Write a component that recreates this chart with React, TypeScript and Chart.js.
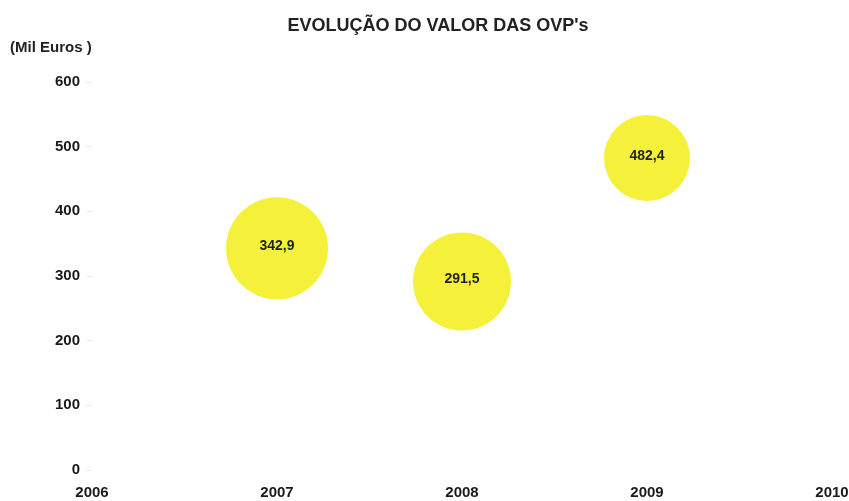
import React, { useEffect, useRef } from "react";
import { Chart, registerables } from "chart.js";

Chart.register(...registerables);

const titleText = "EVOLUÇÃO DO VALOR DAS OVP's";
const unitText = "(Mil Euros )";
const years = [2007, 2008, 2009];
const values = [342.9, 291.5, 482.4];
const bubbleRadii = [51, 49, 43];
const valueLabels = ["342,9", "291,5", "482,4"];
const xMin = 2006;
const xMax = 2010;
const yMin = 0;
const yMax = 600;
const yStep = 100;

const FONT = "'Liberation Sans', Arial, sans-serif";

const textPlugin = {
  id: "texts",
  afterDatasetsDraw(chart: any) {
    const ctx = chart.ctx;
    const meta = chart.getDatasetMeta(0);
    ctx.save();
    ctx.fillStyle = "#1e2424";
    ctx.font = `bold 14px ${FONT}`;
    ctx.textAlign = "center";
    ctx.textBaseline = "middle";
    meta.data.forEach((el: any, i: number) => {
      ctx.fillText(valueLabels[i], el.x, el.y - 2);
    });
    ctx.restore();
  },
  afterDraw(chart: any) {
    const ctx = chart.ctx;
    ctx.save();
    ctx.fillStyle = "#222";
    ctx.textBaseline = "middle";
    ctx.font = `bold 18px ${FONT}`;
    ctx.textAlign = "center";
    ctx.fillText(titleText, 438, 26);
    ctx.font = `bold 15px ${FONT}`;
    ctx.textAlign = "left";
    ctx.fillText(unitText, 10, 48);
    ctx.restore();
  },
};

export default function App() {
  const ref = useRef<HTMLCanvasElement | null>(null);
  useEffect(() => {
    document.body.style.margin = "0";
    const c = ref.current;
    if (!c) return;
    const chart = new Chart(c, {
      type: "bubble",
      data: {
        datasets: [
          {
            data: years.map((y, i) => ({ x: y, y: values[i], r: bubbleRadii[i] })),
            backgroundColor: "#f5f13a",
            borderWidth: 0,
            hoverRadius: 0,
          },
        ],
      },
      options: {
        responsive: false,
        animation: false,
        layout: { autoPadding: false, padding: { top: 82, left: 49, right: 0, bottom: 0 } },
        plugins: {
          legend: { display: false },
          tooltip: { enabled: false },
          title: { display: false },
        },
        scales: {
          x: {
            type: "linear",
            min: xMin,
            max: xMax,
            grid: { display: false, drawTicks: false },
            border: { display: false },
            afterFit: (scale: any) => {
              scale.height = 31;
              scale.paddingRight = 17;
              scale.paddingLeft = 17;
            },
            ticks: {
              stepSize: 1,
              padding: 14,
              color: "#1a1a1a",
              font: { family: FONT, size: 15, weight: "bold" },
              callback: (v: any) => String(v),
            },
          },
          y: {
            min: yMin,
            max: yMax,
            grid: { drawOnChartArea: false, color: "#e3eaf1", tickLength: 6 },
            border: { display: false },
            ticks: {
              stepSize: yStep,
              padding: 6,
              color: "#1a1a1a",
              font: { family: FONT, size: 15, weight: "bold" },
            },
          },
        },
      },
      plugins: [textPlugin],
    });
    return () => chart.destroy();
  }, []);
  return (
    <div style={{ position: "absolute", left: 0, top: 0, width: 849, height: 501, background: "#fff" }}>
      <canvas ref={ref} width={849} height={501} />
    </div>
  );
}
